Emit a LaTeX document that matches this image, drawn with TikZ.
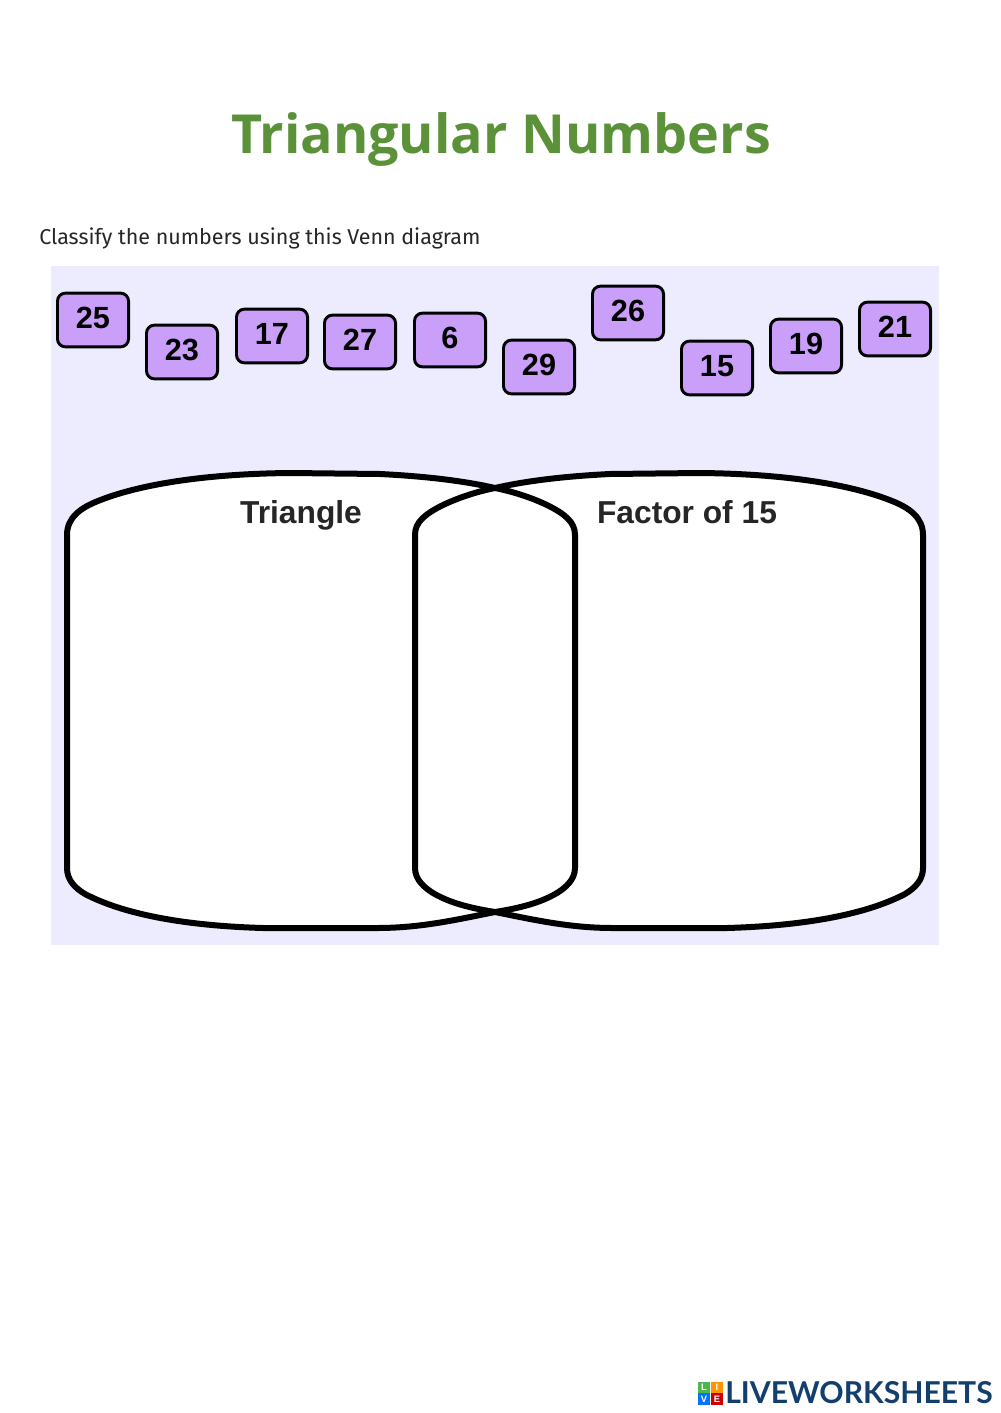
\documentclass[tikz,border=0pt]{standalone}
\usepackage{fontspec}
\setmainfont{Liberation Sans}
\newfontfamily\titlefont{Open Sans}
\newfontfamily\bodyfont{Fira Sans}
\newfontfamily\logofont{Lato}
\definecolor{panel_color}{HTML}{ECECFE}
\definecolor{box_color}{HTML}{CA9FF9}
\definecolor{title_color}{HTML}{5B9239}
\definecolor{logo_color}{HTML}{123F6D}
\tikzset{
  number_font/.style = {font=\fontsize{23}{23}\selectfont\bfseries},
  label_font/.style = {font=\fontsize{23.8}{24}\selectfont\bfseries, text=black!85, anchor=base},
  number_box/.style = {number_font, draw, line width=2.2pt, rounded corners=6, fill=box_color,
      minimum width=53.3, minimum height=40.3, inner sep=0, text height=18.6, text depth=5.4},
  venn_line/.style = {line width=4.5pt, line join=round},
  logo_box/.style = {minimum size=8.6, inner sep=0, text=white, font=\fontsize{7}{7}\selectfont\bfseries}
}
\begin{document}
\begin{tikzpicture}[x=0.75pt, y=-0.75pt]
        \useasboundingbox (0,0) rectangle (1000,1413);

        % Header
        \node[font=\titlefont\fontsize{40.4}{41}\selectfont\bfseries, text=title_color, anchor=base] at (501,153) (title) {Triangular Numbers};
        \node[font=\bodyfont\fontsize{16.1}{17}\selectfont, anchor=base west, inner sep=0, text=black!85] at (39,244) (task) {Classify the numbers using this Venn diagram};

        % Panel
        \fill[panel_color] (51,266) rectangle (939,945);

        % Venn regions
        \def\leftset{(67,535) .. controls (67,518) and (80,508) .. (98,501) .. controls (130,488) and (190,474) .. (290,473) -- (380,474)
            .. controls (420,476) and (460,480) .. (495,488) .. controls (515,492) and (532,498) .. (547,505) .. controls (565,514) and (575,522) .. (575,535)
            -- (575,868) .. controls (575,880) and (565,888) .. (557,893) .. controls (540,903) and (520,908) .. (495,912)
            .. controls (455,920) and (420,928) .. (377,928) -- (263,928) .. controls (160,925) and (110,907) .. (85,894)
            .. controls (75,888) and (67,880) .. (67,868) -- cycle}
        \def\rightset{(923,535) .. controls (923,518) and (910,508) .. (892,501) .. controls (860,488) and (800,474) .. (700,473) -- (610,474)
            .. controls (570,476) and (530,480) .. (495,488) .. controls (475,492) and (458,498) .. (443,505) .. controls (425,514) and (415,522) .. (415,535)
            -- (415,868) .. controls (415,880) and (425,888) .. (433,893) .. controls (450,903) and (470,908) .. (495,912)
            .. controls (535,920) and (570,928) .. (613,928) -- (727,928) .. controls (830,925) and (880,907) .. (905,894)
            .. controls (915,888) and (923,880) .. (923,868) -- cycle}
        \fill[white] \leftset;
        \fill[white] \rightset;
        \draw[venn_line] \leftset;
        \draw[venn_line] \rightset;
        \node[label_font] at (301,523) (triangle) {Triangle};
        \node[label_font] at (687,523) (factor) {Factor of 15};

        % Numbers
        \node[number_box] at (93,320) (n_25) {25};
        \node[number_box] at (182,352) (n_23) {23};
        \node[number_box] at (272,336) (n_17) {17};
        \node[number_box] at (360,342) (n_27) {27};
        \node[number_box] at (450,340) (n_6) {6};
        \node[number_box] at (539,367) (n_29) {29};
        \node[number_box] at (628,313) (n_26) {26};
        \node[number_box] at (717,368) (n_15) {15};
        \node[number_box] at (806,346) (n_19) {19};
        \node[number_box] at (895,329) (n_21) {21};

        % Logo
        \node[logo_box, fill=green!60!black!70] at (704,1387.5) (logo_l) {L};
        \node[logo_box, fill=orange!85!yellow] at (717,1387.5) (logo_i) {I};
        \node[logo_box, fill=blue!55!cyan] at (704,1399) (logo_v) {V};
        \node[logo_box, fill=red!80!black] at (717,1399) (logo_e) {E};
        \node[font=\logofont\fontsize{22.6}{23}\selectfont\bfseries, text=logo_color, anchor=base west, inner sep=0] at (725,1403) (logo) {LIVEWORKSHEETS};
\end{tikzpicture}
\end{document}
